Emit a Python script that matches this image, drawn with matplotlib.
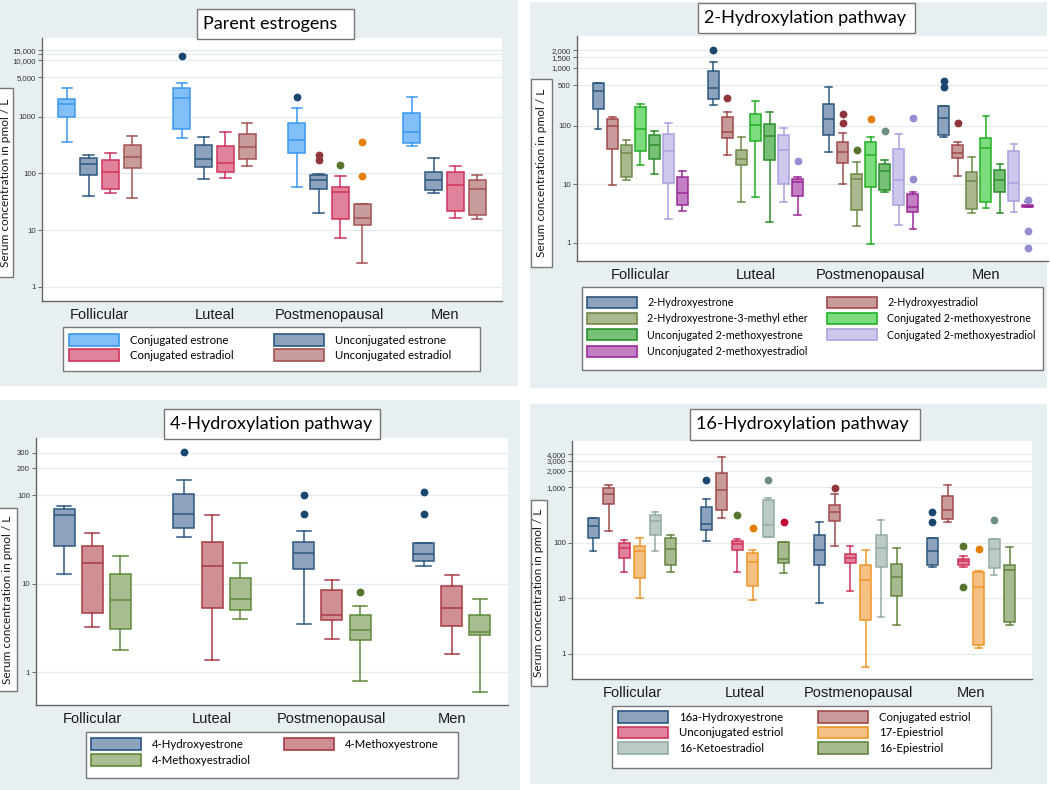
import matplotlib
matplotlib.use('Agg')
import matplotlib.pyplot as plt
from matplotlib.patches import Rectangle, Patch
from matplotlib.ticker import FixedLocator, FixedFormatter, NullLocator

W, H = 1050, 790
groups = ['Follicular', 'Luteal', 'Postmenopausal', 'Men']
ylabel_text = 'Serum concentration in pmol / L'
# Stata s2color marker colours, used for the outside values
marker_cols = ['#1a476f', '#90353b', '#55752f', '#e37e00', '#6e8e84', '#c10534', '#938dd2']

# ---- Parent estrogens ----
pe_series = ['Conjugated estrone', 'Unconjugated estrone', 'Conjugated estradiol', 'Unconjugated estradiol']
pe_lo = [[362, 420, 57, 307], [40, 80, 20, 46], [46, 84, 7.1, 16], [37, 137, 2.6, 15.4]]
pe_q1 = [[1000, 614, 225, 338], [92, 128, 53, 51.5], [52, 107, 15.8, 21.3], [124, 177, 12.4, 18.2]]
pe_med = [[1650, 2100, 387, 536], [144, 179, 78, 76], [107, 150, 47.5, 62], [192, 296, 16.5, 53.6]]
pe_q3 = [[2020, 3250, 773, 1161], [186, 316, 92, 106], [172, 304, 56.6, 104], [320, 488, 28.4, 77]]
pe_hi = [[3200, 3875, 1422, 2195], [213, 444, 97, 186], [225, 536, 91, 137], [462, 763, 29.2, 95]]
pe_out = [[[], [11800], [2195], []], [[], [], [208, 170], []], [[], [], [138], []], [[], [], [357, 90], []]]
pe_fill = ['#82bff8', '#8da3bd', '#e0829c', '#c99c9c']
pe_edge = ['#3a98f0', '#2c5780', '#d0335c', '#a35252']

# ---- 2-Hydroxylation pathway ----
oh2_series = ['2-Hydroxyestrone', '2-Hydroxyestradiol', '2-Hydroxyestrone-3-methyl ether',
              'Conjugated 2-methoxyestrone', 'Unconjugated 2-methoxyestrone',
              'Conjugated 2-methoxyestradiol', 'Unconjugated 2-methoxyestradiol']
oh2_lo = [[88, 226, 35.4, 65.6], [9.7, 32, 10.1, 14.1], [11.7, 5.0, 1.93, 3.18], [21.4, 6.1, 0.94, 3.98],
          [15, 2.26, 7.3, 3.18], [2.5, 4.9, 2.0, 3.31], [3.5, 3.0, 1.74, 4.09]]
oh2_q1 = [[198, 287, 69, 71], [41, 61.5, 22.9, 27.9], [13.5, 21.2, 3.63, 3.78], [36.8, 54.6, 9.1, 4.9],
          [27.5, 25.8, 7.9, 7.3], [10.4, 10, 4.37, 5.1], [4.5, 6.4, 3.31, 4.09]]
oh2_med = [[403, 454, 130, 135], [100, 79, 35.4, 34], [35, 26.8, 12.2, 11.6], [89, 104, 31.4, 41.4],
           [48, 66.5, 16.7, 12], [37.8, 38.8, 11.9, 10.7], [7.0, 11, 4.14, 4.25]]
oh2_q3 = [[553, 865, 235, 220], [132, 144, 54, 46.6], [48, 38.8, 14.8, 16.1], [209, 163, 54, 63],
          [70, 110, 22.3, 17.8], [74, 70, 39.8, 37.8], [13.5, 12.3, 6.7, 4.48]]
oh2_hi = [[553, 1267, 472, 220], [141, 176, 75, 54], [58, 65.6, 23.8, 29], [241, 272, 64, 148],
          [82, 176, 26.1, 22], [112, 91, 73, 49], [17.2, 13.5, 7.3, 4.9]]
oh2_out = [[[], [2010], [], [591, 460]], [[], [306], [160, 111], [112]], [[], [], [38.8], []],
           [[], [], [134], []], [[], [], [82], []], [[], [], [], []], [[], [25], [139, 12.3], [5.46, 1.56, 0.81]]]
oh2_fill = ['#8da3bd', '#c99a9a', '#abb78f', '#7ddc7d', '#78c078', '#cdc8ec', '#c27fc2']
oh2_edge = ['#2c5780', '#a04a4a', '#6e8a48', '#22b022', '#2a8f2a', '#a9a2e0', '#9a2a9a']

# ---- 4-Hydroxylation pathway ----
oh4_series = ['4-Hydroxyestrone', '4-Methoxyestrone', '4-Methoxyestradiol']
oh4_lo = [[12.9, 33.6, 3.54, 16], [3.25, 1.38, 2.38, 1.61], [1.8, 3.96, 0.79, 0.6]]
oh4_q1 = [[26.4, 42, 14.6, 17.9], [4.63, 5.27, 3.86, 3.3], [3.05, 5.09, 2.3, 2.64]]
oh4_med = [[59, 61.6, 22.4, 21.8], [16.9, 15.8, 4.47, 5.27], [6.5, 6.8, 3.03, 2.85]]
oh4_q3 = [[69.5, 104, 29.3, 28.7], [26.6, 29.3, 8.48, 9.33], [12.9, 11.5, 4.47, 4.4]]
oh4_hi = [[75, 146, 39.6, 28.7], [37.6, 59, 11.1, 12.4], [20.3, 16.9, 5.65, 6.66]]
oh4_out = [[[], [303], [100, 61.6], [108, 60.5]], [[], [], [], []], [[], [], [8.05], []]]
oh4_fill = ['#8da3bd', '#cf8f93', '#aabd90']
oh4_edge = ['#2c5780', '#a83a44', '#5f8a3a']

# ---- 16-Hydroxylation pathway ----
oh16_series = ['16a-Hydroxyestrone', 'Conjugated estriol', 'Unconjugated estriol',
               '17-Epiestriol', '16-Ketoestradiol', '16-Epiestriol']
oh16_lo = [[70.8, 110, 8.3, 36], [162, 282, 86, 236], [29.6, 30.4, 13.5, 36], [10.1, 9.3, 0.575, 1.27],
           [71.8, 125, 4.58, 25.8], [30.4, 28.4, 3.24, 3.33]]
oh16_q1 = [[121, 171, 40.7, 40.7], [511, 399, 253, 267], [54.4, 73.8, 43, 40.7], [23.7, 17, 4.1, 1.45],
           [136, 130, 37, 34.5], [40, 43, 11.2, 3.77]]
oh16_med = [[200, 220, 74.8, 70.8], [774, 914, 362, 388], [80, 94.6, 53, 46.7], [71.8, 46, 21.5, 16.1],
            [249, 208, 82.4, 77], [79, 50.8, 24.7, 32.2]]
oh16_q3 = [[286, 445, 137, 120], [993, 1800, 477, 713], [101, 109, 64.2, 52.2], [86, 65, 40.7, 30.4],
           [320, 596, 141, 116], [121, 104, 41.3, 39.6]]
oh16_hi = [[286, 629, 242, 120], [1109, 3594, 774, 1109], [112, 118, 87, 58.3], [120, 74.8, 75.8, 31.3],
           [367, 656, 256, 116], [136, 104, 81.3, 83.6]]
oh16_out = [[[], [1365], [], [367, 242]], [[], [], [966], []], [[], [315], [], [88.3, 16.3]],
            [[], [186], [], [77]], [[], [1365], [], [256]], [[], [236], [], []]]
oh16_fill = ['#8da3bd', '#c99a9a', '#e0829c', '#f5c083', '#bccbc6', '#a7b98e']
oh16_edge = ['#2c5780', '#a04a4a', '#d0335c', '#f0962a', '#93aca4', '#62853f']

BG = '#e8eff2'
TXT = '#1a1a1a'


def frac(x0, y0, x1, y1):
    return [x0 / W, 1 - y1 / H, (x1 - x0) / W, (y1 - y0) / H]


def add_rect(fig, x0, y0, x1, y1, fc, ec='none', lw=1.0, z=-5):
    r = Rectangle((x0 / W, 1 - y1 / H), (x1 - x0) / W, (y1 - y0) / H, transform=fig.transFigure,
                  facecolor=fc, edgecolor=ec, linewidth=lw, zorder=z)
    fig.add_artist(r)


def draw_panel(fig, panel, axpx, titlepx, title, ylabpx, legpx, legcols, series, lo, q1, med, q3, hi, out,
               fills, edges, offset, width, capfrac, xlim, ylim, yticks, yticklabels):
    add_rect(fig, *panel, fc=BG)
    ax = fig.add_axes(frac(*axpx))
    ns = len(lo)
    for s in range(ns):
        stats = []
        for g in range(4):
            stats.append(dict(whislo=lo[s][g], q1=q1[s][g], med=med[s][g], q3=q3[s][g],
                              whishi=hi[s][g], fliers=out[s][g]))
        pos = [g + (s - (ns - 1) / 2) * offset for g in range(4)]
        ax.bxp(stats, positions=pos, widths=width, capwidths=width * capfrac, patch_artist=True,
               manage_ticks=False,
               boxprops=dict(facecolor=fills[s], edgecolor=edges[s], linewidth=1.1),
               medianprops=dict(color=edges[s], linewidth=1.1),
               whiskerprops=dict(color=edges[s], linewidth=1.1),
               capprops=dict(color=edges[s], linewidth=1.1),
               flierprops=dict(marker='o', markerfacecolor=marker_cols[s],
                               markeredgecolor=marker_cols[s], markersize=4.6))
    ax.set_yscale('log')
    ax.set_ylim(*ylim)
    ax.set_xlim(*xlim)
    ax.yaxis.set_major_locator(FixedLocator(yticks))
    ax.yaxis.set_major_formatter(FixedFormatter(yticklabels))
    ax.yaxis.set_minor_locator(NullLocator())
    ax.set_xticks(range(4))
    ax.set_xticklabels(groups, fontsize=10.5, family='Liberation Sans', color=TXT)
    ax.tick_params(axis='x', length=0, pad=5)
    ax.tick_params(axis='y', length=3, width=0.6, color='#555555', labelsize=5.6,
                   labelcolor='#333333', pad=1.5)
    for lab in ax.get_yticklabels():
        lab.set_family('Liberation Sans')
    ax.yaxis.grid(True, color='#e3ebee', linewidth=0.9)
    ax.set_axisbelow(True)
    for side in ['top', 'right']:
        ax.spines[side].set_visible(False)
    for side in ['left', 'bottom']:
        ax.spines[side].set_color('#666666')
        ax.spines[side].set_linewidth(1.0)

    # title box
    tx0, ty0, tx1, ty1 = titlepx
    add_rect(fig, tx0, ty0, tx1, ty1, fc='white', ec='#777777', lw=1.0, z=5)
    fig.text((tx0 + 6) / W, 1 - (ty0 + ty1) / 2 / H, title, fontsize=13, family='Lato',
             ha='left', va='center', color='black', zorder=6)

    # y label box
    lx0, ly0, lx1, ly1 = ylabpx
    add_rect(fig, lx0, ly0, lx1, ly1, fc='white', ec='#777777', lw=1.0, z=5)
    fig.text((lx0 + lx1) / 2 / W, 1 - (ly0 + ly1) / 2 / H, ylabel_text, rotation=90, fontsize=8.6,
             family='Lato', ha='center', va='center', color=TXT, zorder=6)

    # legend box, two columns filled row by row as Stata does
    gx0, gy0, gx1, gy1 = legpx
    add_rect(fig, gx0, gy0, gx1, gy1, fc='white', ec='#777777', lw=1.0, z=5)
    col_x, row_y, spacing, fsize, hlen = legcols
    hh = 1.2 * fsize * 100 / 72
    for c, cx in enumerate(col_x):
        idx = list(range(c, len(series), 2))
        handles = [Patch(facecolor=fills[i], edgecolor=edges[i], linewidth=1.2) for i in idx]
        labels = [series[i] for i in idx]
        leg = fig.legend(handles, labels, bbox_to_anchor=(cx / W, 1 - (row_y - hh / 2) / H),
                         bbox_transform=fig.transFigure, loc='upper left', ncol=1,
                         frameon=False, prop=dict(family='Lato', size=fsize), handlelength=hlen,
                         handleheight=1.2, handletextpad=0.95, labelspacing=spacing, borderpad=0,
                         borderaxespad=0)
        leg.set_zorder(6)
    return ax


fig = plt.figure(figsize=(W / 100, H / 100), dpi=100)
fig.patch.set_facecolor('white')

draw_panel(fig, (0, 0, 518, 386), (42, 38, 502, 301), (197, 9, 354, 39), 'Parent estrogens',
           (-2, 88, 13, 277), (63, 327, 480, 371), ([69, 274], 341, 0.29, 8.2, 4.4), pe_series,
           pe_lo, pe_q1, pe_med, pe_q3, pe_hi, pe_out, pe_fill, pe_edge,
           0.19, 0.15, 0.6, (-0.5, 3.5), (0.56, 24500),
           [1, 10, 100, 1000, 5000, 10000, 13000, 15000],
           ['1', '10', '100', '1000', '5,000', '10,000', '', '15,000'])

draw_panel(fig, (530, 2, 1047, 388), (577, 36, 1048, 261), (698, 3, 915, 33), '2-Hydroxylation pathway',
           (531, 79, 552, 267), (582, 287, 1043, 370), ([587, 827], 303, 0.5, 7.7, 4.7), oh2_series,
           oh2_lo, oh2_q1, oh2_med, oh2_q3, oh2_hi, oh2_out, oh2_fill, oh2_edge,
           0.122, 0.095, 0.6, (-0.55, 3.54), (0.485, 3490),
           [1, 10, 100, 500, 1000, 1500, 2000],
           ['1', '10', '100', '500', '1,000', '1,500', '2,000'])

draw_panel(fig, (0, 400, 520, 790), (36, 438, 508, 705), (164, 409, 380, 439), '4-Hydroxylation pathway',
           (-2, 508, 17, 691), (86, 732, 458, 778), ([91, 284], 745, 0.4, 8.2, 4.4), oh4_series,
           oh4_lo, oh4_q1, oh4_med, oh4_q3, oh4_hi, oh4_out, oh4_fill, oh4_edge,
           0.235, 0.175, 0.68, (-0.47, 3.47), (0.428, 440),
           [1, 10, 100, 200, 300],
           ['1', '10', '100', '200', '300'])

draw_panel(fig, (530, 404, 1047, 784), (572, 441, 1032, 679), (690, 409, 920, 440), '16-Hydroxylation pathway',
           (531, 500, 547, 686), (612, 706, 991, 768), ([618, 818], 718, 0.33, 8.2, 4.4), oh16_series,
           oh16_lo, oh16_q1, oh16_med, oh16_q3, oh16_hi, oh16_out, oh16_fill, oh16_edge,
           0.137, 0.097, 0.6, (-0.53, 3.54), (0.35, 6880),
           [1, 10, 100, 1000, 2000, 3000, 4000],
           ['1', '10', '100', '1,000', '2,000', '3,000', '4,000'])

fig.savefig('out.png', dpi=100, facecolor=fig.get_facecolor())
